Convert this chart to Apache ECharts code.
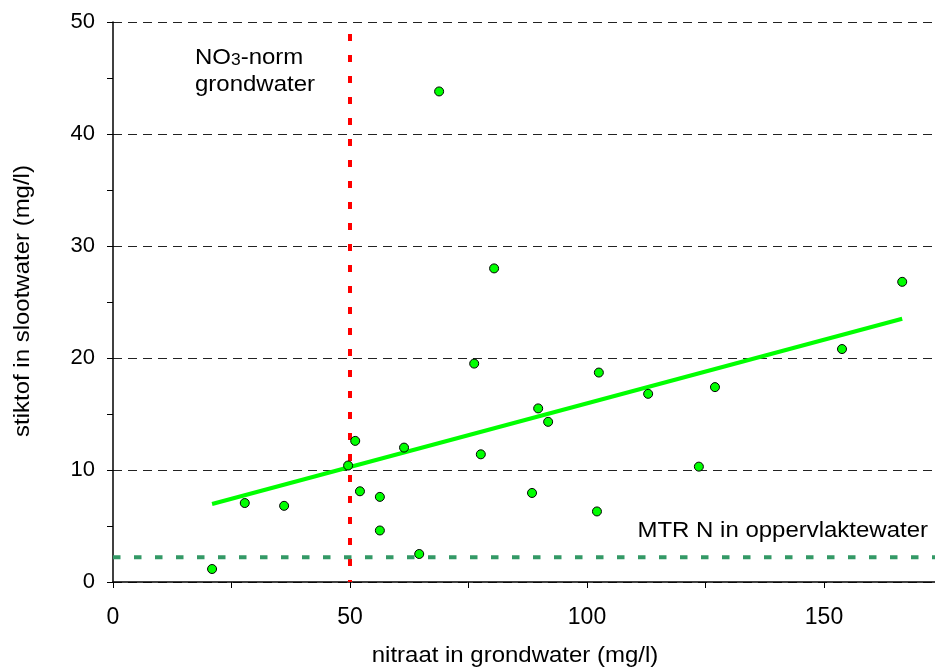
<!DOCTYPE html>
<html><head><meta charset="utf-8">
<script src="https://cdn.jsdelivr.net/npm/echarts@6/dist/echarts.min.js"></script>
<style>html,body{margin:0;padding:0;background:#fff}#c{width:935px;height:667px}</style>
</head><body><div id="c"></div>
<script>
const nitraat = [20.9, 27.8, 36.1, 49.6, 51.1, 52.1, 56.3, 56.3, 61.4, 64.6, 68.8, 76.2, 77.6, 80.4, 88.4, 89.7, 91.8, 102.5, 102.1, 112.9, 123.6, 127.0, 153.8, 166.5];
const stikstof = [1.16, 7.05, 6.8, 10.4, 12.6, 8.1, 7.6, 4.6, 12.0, 2.5, 43.8, 19.5, 11.4, 28.0, 7.95, 15.5, 14.3, 18.7, 6.3, 16.8, 10.3, 17.4, 20.8, 26.8];
const trendX = [20.9, 166.5];
const trendY = [6.96, 23.5];
const no3Norm = 50;
const mtrN = 2.2;
const xTicks = [0, 50, 100, 150];
const yTicks = [0, 10, 20, 30, 40, 50];

const font = 'Liberation Sans, Arial, sans-serif';
const txt = (text, x, y, align, extra) => Object.assign({
  type: 'text', x: x, y: y, scaleX: 1.09, silent: true,
  style: {text: text, fill: '#000', fontFamily: font, fontSize: 22,
    align: align, verticalAlign: 'middle', textAlign: align, textVerticalAlign: 'middle'}
}, extra || {});

const chart = echarts.init(document.getElementById('c'));
chart.setOption({
  animation: false,
  grid: {left: 113, width: 829.5, top: 22, bottom: 85, outerBoundsMode: 'none', containLabel: false},
  xAxis: {
    type: 'value', min: 0, max: 175, interval: 50,
    axisLine: {show: true, lineStyle: {color: '#000', width: 1.5}},
    axisTick: {show: true, length: 6, lineStyle: {color: '#000'}},
    minorTick: {show: true, splitNumber: 2, length: 6, lineStyle: {color: '#000'}},
    axisLabel: {fontFamily: font, fontSize: 23, color: '#000', margin: 24,
      formatter: v => xTicks.includes(v) ? String(v) : ''},
    splitLine: {show: false}
  },
  yAxis: {
    type: 'value', min: 0, max: 50, interval: 10,
    axisLine: {show: true, lineStyle: {color: '#000', width: 1.5}},
    axisTick: {show: true, length: 6, lineStyle: {color: '#000'}},
    minorTick: {show: true, splitNumber: 2, length: 6, lineStyle: {color: '#000'}},
    axisLabel: {fontFamily: font, fontSize: 22, color: '#000', margin: 18,
      formatter: v => yTicks.includes(v) ? String(v) : ''},
    splitLine: {show: true, lineStyle: {color: '#222', type: [9, 6], width: 1}}
  },
  series: [
    {
      type: 'line', data: [[no3Norm, 50], [no3Norm, 0]], symbol: 'none', silent: true,
      lineStyle: {color: '#ff0000', width: 4, type: [7, 14], dashOffset: 9}, z: 2
    },
    {
      type: 'line', data: [[0, mtrN], [175, mtrN]], symbol: 'none', silent: true,
      lineStyle: {color: '#339966', width: 4, type: [7.5, 13.5]}, z: 2
    },
    {
      type: 'line', data: trendX.map((x, i) => [x, trendY[i]]), symbol: 'none', silent: true,
      lineStyle: {color: '#00ff00', width: 4}, z: 3
    },
    {
      type: 'scatter', data: nitraat.map((x, i) => [x, stikstof[i]]), symbolSize: 9,
      itemStyle: {color: '#00ff00', borderColor: '#000', borderWidth: 1, opacity: 1}, z: 4
    }
  ],
  graphic: [
    {type: 'text', x: 195, y: 46.7, scaleX: 1.09, silent: true, style: {
      text: '{a|NO}{s|3}{a|-norm}', fill: '#000', verticalAlign: 'top', textVerticalAlign: 'top',
      rich: {a: {fontFamily: font, fontSize: 22, lineHeight: 22, verticalAlign: 'middle'},
             s: {fontFamily: font, fontSize: 16, lineHeight: 22, verticalAlign: 'bottom'}}
    }},
    txt('grondwater', 195, 84.5, 'left'),
    txt('MTR N in oppervlaktewater', 928, 530.5, 'right'),
    txt('nitraat in grondwater (mg/l)', 515, 656.4, 'center'),
    txt('stiktof in slootwater (mg/l)', 23, 301, 'center', {rotation: Math.PI / 2})
  ]
});
</script></body></html>
